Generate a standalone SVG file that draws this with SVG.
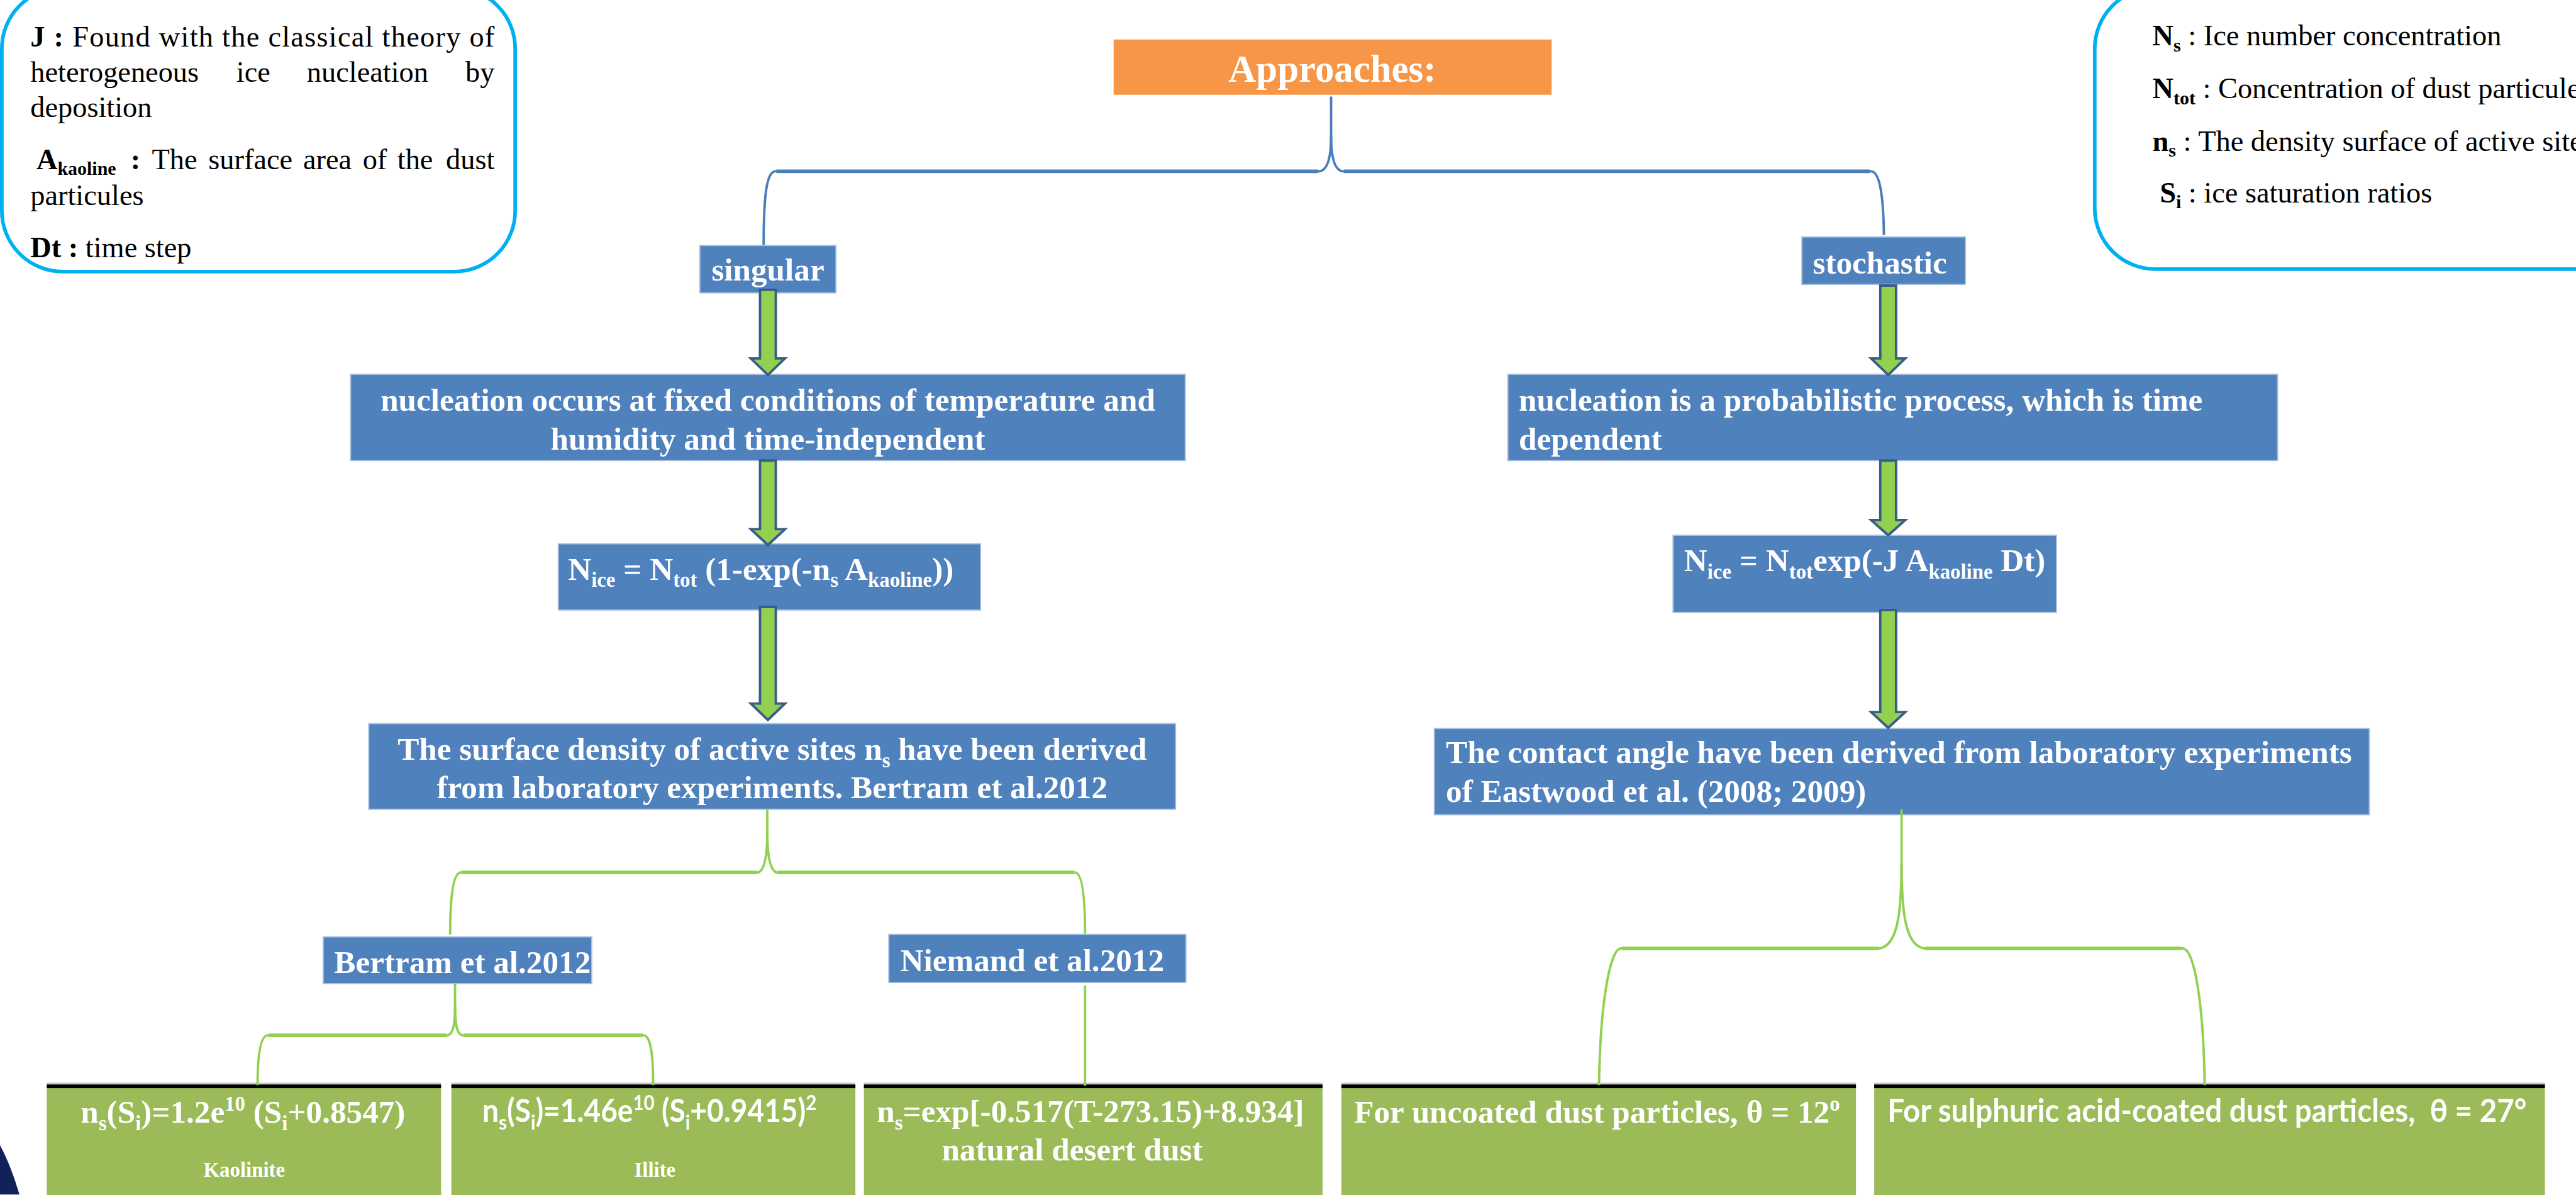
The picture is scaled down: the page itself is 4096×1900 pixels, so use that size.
<svg xmlns="http://www.w3.org/2000/svg" width="4096" height="1900" viewBox="0 0 4096 1900">
<style>
.bx{fill:#4F81BD;stroke:#A7BFDE;stroke-width:2}
.gb{fill:#9BBB59}
.bar{fill:#000}
.gry{fill:#C8C8C8}
.t{font-family:"Liberation Serif","Times New Roman",serif;font-weight:bold;fill:#fff;font-size:53px}
.ss{font-family:Lato,"Liberation Sans",sans-serif;font-weight:bold;fill:#fff;font-size:53px}
.lg{font-family:"Liberation Serif","Times New Roman",serif;font-size:48px;fill:#000}
.b{font-weight:bold}
.sub{font-size:34px}
.lsub{font-size:31px;font-weight:bold}
.arrow{fill:#92D050;stroke:#385D8A;stroke-width:4;stroke-linejoin:miter}
.bl{fill:none;stroke:#4A7EBB;stroke-width:4}
.blh{fill:none;stroke:#4A7EBB;stroke-width:6}
.gl{fill:none;stroke:#92D050;stroke-width:4}
.glh{fill:none;stroke:#92D050;stroke-width:6}
.leg{fill:#fff;stroke:#00B0F0;stroke-width:6}
</style>
<rect width="4096" height="1900" fill="#fff"/>
<g transform="scale(0.966)">

<g id="legend-left">
<rect class="leg" x="3" y="-20" width="845" height="467" rx="100" ry="100"/>
<text class="lg" x="50" y="77" textLength="764" lengthAdjust="spacing"><tspan class="b">J :</tspan> Found with the classical theory of</text>
<text class="lg" y="135"><tspan x="50">heterogeneous</tspan><tspan x="389">ice</tspan><tspan x="505">nucleation</tspan></text>
<text class="lg" x="814" y="135" text-anchor="end">by</text>
<text class="lg" x="50" y="193">deposition</text>
<text class="lg" y="278"><tspan x="60" class="b">A</tspan><tspan class="lsub" dy="10">kaoline</tspan><tspan dy="-10" x="215" class="b">:</tspan><tspan x="250">The</tspan><tspan x="343">surface</tspan><tspan x="499">area</tspan><tspan x="597">of</tspan><tspan x="654">the</tspan></text>
<text class="lg" x="814" y="278" text-anchor="end">dust</text>
<text class="lg" x="50" y="337">particules</text>
<text class="lg" x="50" y="423"><tspan class="b">Dt :</tspan> time step</text>
</g>

<g id="legend-right">
<rect class="leg" x="3448" y="-20" width="900" height="463" rx="100" ry="100"/>
<text class="lg" x="3543" y="75"><tspan class="b">N</tspan><tspan class="lsub" dy="10">s</tspan><tspan dy="-10"> : Ice number concentration</tspan></text>
<text class="lg" x="3543" y="162"><tspan class="b">N</tspan><tspan class="lsub" dy="10">tot</tspan><tspan dy="-10"> : Concentration of dust particules</tspan></text>
<text class="lg" x="3543" y="248"><tspan class="b">n</tspan><tspan class="lsub" dy="10">s</tspan><tspan dy="-10"> : The density surface of active sites</tspan></text>
<text class="lg" x="3555" y="333"><tspan class="b">S</tspan><tspan class="lsub" dy="10">i</tspan><tspan dy="-10"> :  ice saturation ratios</tspan></text>
</g>

<g id="approaches">
<rect x="1833" y="65" width="721" height="91" fill="#F79646"/>
<text class="t" x="2193" y="135" text-anchor="middle" style="font-size:63px">Approaches:</text>
</g>

<g id="singular">
<rect class="bx" x="1152" y="404" width="224" height="78"/>
<text class="t" x="1264" y="462" text-anchor="middle">singular</text>
</g>

<g id="stochastic">
<rect class="bx" x="2966" y="390" width="269" height="78"/>
<text class="t" x="2984" y="450">stochastic</text>
</g>

<g id="singular-def">
<rect class="bx" x="577" y="616" width="1374" height="142"/>
<text class="t" x="1264" y="676" text-anchor="middle">nucleation occurs at fixed conditions of temperature and</text>
<text class="t" x="1264" y="740" text-anchor="middle">humidity and time-independent</text>
</g>

<g id="stochastic-def">
<rect class="bx" x="2482" y="616" width="1267" height="142"/>
<text class="t" x="2500" y="676">nucleation is a probabilistic process, which is time</text>
<text class="t" x="2500" y="740">dependent</text>
</g>

<g id="singular-eq">
<rect class="bx" x="919" y="895" width="695" height="109"/>
<text class="t" x="935" y="954">N<tspan class="sub" dy="12">ice</tspan><tspan dy="-12"> = N</tspan><tspan class="sub" dy="12">tot</tspan><tspan dy="-12"> (1-exp(-n</tspan><tspan class="sub" dy="12">s</tspan><tspan dy="-12"> A</tspan><tspan class="sub" dy="12">kaoline</tspan><tspan dy="-12">))</tspan></text>
</g>

<g id="stochastic-eq">
<rect class="bx" x="2754" y="881" width="631" height="127"/>
<text class="t" x="2772" y="940">N<tspan class="sub" dy="12">ice</tspan><tspan dy="-12"> = N</tspan><tspan class="sub" dy="12">tot</tspan><tspan dy="-12">exp(-J A</tspan><tspan class="sub" dy="12">kaoline</tspan><tspan dy="-12"> Dt)</tspan></text>
</g>

<g id="surface-density">
<rect class="bx" x="607" y="1191" width="1328" height="141"/>
<text class="t" x="1271" y="1251" text-anchor="middle">The surface density of active sites n<tspan class="sub" dy="12">s</tspan><tspan dy="-12" dx="13">have been derived</tspan></text>
<text class="t" x="1271" y="1314" text-anchor="middle">from laboratory experiments. Bertram et al.2012</text>
</g>

<g id="contact-angle">
<rect class="bx" x="2361" y="1199" width="1539" height="142"/>
<text class="t" x="2380" y="1256">The contact angle have been derived from laboratory experiments</text>
<text class="t" x="2380" y="1320">of Eastwood et al. (2008; 2009)</text>
</g>

<g id="bertram">
<rect class="bx" x="532" y="1542" width="442" height="77"/>
<text class="t" x="550" y="1601">Bertram et al.2012</text>
</g>

<g id="niemand">
<rect class="bx" x="1463" y="1538" width="489" height="79"/>
<text class="t" x="1482" y="1598">Niemand et al.2012</text>
</g>

<g id="kaolinite">
<rect class="gb" x="77" y="1785" width="649" height="200"/>
<rect class="gry" x="77" y="1782" width="649" height="3"/>
<rect class="bar" x="77" y="1785" width="649" height="6"/>
<text class="t" x="400" y="1848" text-anchor="middle">n<tspan class="sub" dy="12">s</tspan><tspan dy="-12">(S</tspan><tspan class="sub" dy="12">i</tspan><tspan dy="-12">)=1.2e</tspan><tspan class="sub" dy="-20">10</tspan><tspan dy="20"> (S</tspan><tspan class="sub" dy="12">i</tspan><tspan dy="-12">+0.8547)</tspan></text>
<text class="t" x="402" y="1937" text-anchor="middle" style="font-size:34px">Kaolinite</text>
</g>

<g id="illite">
<rect class="gb" x="743" y="1785" width="665" height="200"/>
<rect class="gry" x="743" y="1782" width="665" height="3"/>
<rect class="bar" x="743" y="1785" width="665" height="6"/>
<text class="ss" transform="translate(794 1847) scale(0.9 1)" x="0" y="0">n<tspan class="sub" dy="12">s</tspan><tspan dy="-12">(S</tspan><tspan class="sub" dy="12">i</tspan><tspan dy="-12">)=1.46e</tspan><tspan class="sub" dy="-20">10</tspan><tspan dy="20"> (S</tspan><tspan class="sub" dy="12">i</tspan><tspan dy="-12">+0.9415)</tspan><tspan class="sub" dy="-20">2</tspan></text>
<text class="t" x="1078" y="1937" text-anchor="middle" style="font-size:34px">Illite</text>
</g>

<g id="desert-dust">
<rect class="gb" x="1422" y="1785" width="755" height="200"/>
<rect class="gry" x="1422" y="1782" width="755" height="3"/>
<rect class="bar" x="1422" y="1785" width="755" height="6"/>
<text class="t" x="1795" y="1847" text-anchor="middle">n<tspan class="sub" dy="12">s</tspan><tspan dy="-12">=exp[-0.517(T-273.15)+8.934]</tspan></text>
<text class="t" x="1765" y="1910" text-anchor="middle">natural desert dust</text>
</g>

<g id="uncoated">
<rect class="gb" x="2208" y="1785" width="847" height="200"/>
<rect class="gry" x="2208" y="1782" width="847" height="3"/>
<rect class="bar" x="2208" y="1785" width="847" height="6"/>
<text class="t" x="2229" y="1848">For uncoated dust particles, θ = 12<tspan class="sub" dy="-20">o</tspan></text>
</g>

<g id="coated">
<rect class="gb" x="3085" y="1785" width="1104" height="200"/>
<rect class="gry" x="3085" y="1782" width="1104" height="3"/>
<rect class="bar" x="3085" y="1785" width="1104" height="6"/>
<text class="ss" x="3107" y="1847" textLength="1052" lengthAdjust="spacingAndGlyphs" style="white-space:pre">For sulphuric acid-coated dust particles,  θ = 27°</text>
</g>

<path id="corner" d="M0 1885 C14 1910 24 1940 32 1966 L0 1966 Z" fill="#13215A"/>

<g id="connectors">
<path class="bl" d="M2191 159 L2191 225 C2191 262 2184 280 2172 282 L1276 282 C1262 283 1257 320 1257 403"/>
<path class="bl" d="M2191 225 C2191 262 2198 280 2210 282 L3080 282 C3094 283 3100 320 3101 387"/>
<path class="blh" d="M1278 282 L2170 282 M2212 282 L3078 282"/>

<path class="gl" d="M1263 1332 L1263 1370 C1263 1410 1258 1432 1248 1436 L758 1436 C745 1438 741 1480 741 1538"/>
<path class="gl" d="M1263 1370 C1263 1410 1268 1432 1278 1436 L1770 1436 C1782 1438 1786 1480 1786 1537"/>
<path class="glh" d="M760 1436 L1246 1436 M1280 1436 L1768 1436"/>

<path class="gl" d="M749 1619 L749 1655 C749 1690 745 1702 737 1704 L440 1704 C428 1706 424 1740 424 1786"/>
<path class="gl" d="M749 1655 C749 1690 753 1702 761 1704 L1060 1704 C1072 1706 1075 1740 1075 1786"/>
<path class="glh" d="M442 1704 L735 1704 M763 1704 L1058 1704"/>

<path class="gl" d="M1786 1622 L1786 1787"/>

<path class="gl" d="M3130 1332 L3130 1420 C3130 1500 3124 1556 3094 1561 L2668 1561 C2650 1562 2634 1650 2632 1786"/>
<path class="gl" d="M3130 1420 C3130 1500 3136 1556 3167 1561 L3593 1561 C3612 1562 3627 1650 3629 1786"/>
<path class="glh" d="M2670 1561 L3092 1561 M3169 1561 L3591 1561"/>

<path class="arrow" d="M1251 477 L1277 477 L1277 590 L1292 590 L1264 617 L1236 590 L1251 590 Z"/>
<path class="arrow" d="M1251 758 L1277 758 L1277 871 L1292 871 L1264 897 L1236 871 L1251 871 Z"/>
<path class="arrow" d="M1251 999 L1277 999 L1277 1158 L1292 1158 L1264 1185 L1236 1158 L1251 1158 Z"/>
<path class="arrow" d="M3095 470 L3121 470 L3121 590 L3136 590 L3108 617 L3080 590 L3095 590 Z"/>
<path class="arrow" d="M3095 758 L3121 758 L3121 856 L3136 856 L3108 881 L3080 856 L3095 856 Z"/>
<path class="arrow" d="M3095 1004 L3121 1004 L3121 1172 L3136 1172 L3108 1198 L3080 1172 L3095 1172 Z"/>
</g>
</g>
</svg>
